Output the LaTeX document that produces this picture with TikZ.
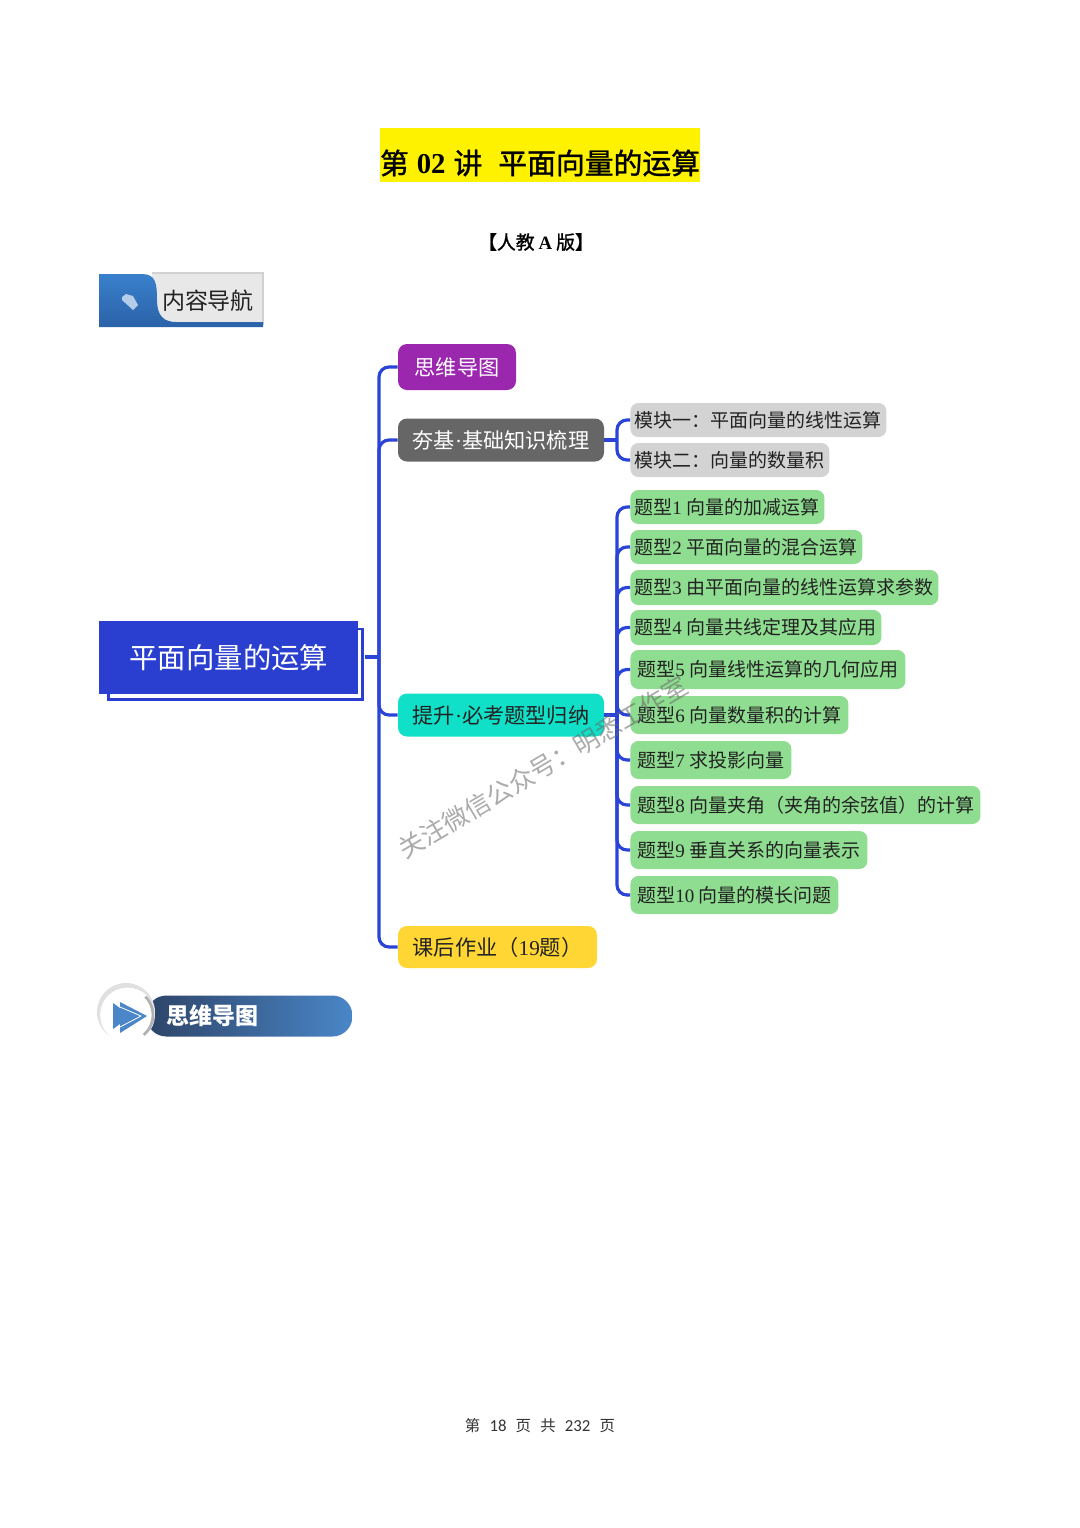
\documentclass[tikz,border=0pt]{standalone}
\usepackage{fontspec}
\setmainfont{Liberation Serif}
\newfontfamily\cjk{Noto Sans CJK SC}
\newfontfamily\cjkt[FakeBold=1.2]{Noto Sans CJK SC}
\newfontfamily\footfont{Carlito}
\usetikzlibrary{calc}
\definecolor{linkblue}{HTML}{2A44D8}
\definecolor{rootblue}{HTML}{2A3FD0}
\definecolor{leafgreen}{HTML}{8FDD90}
\definecolor{leafgray}{HTML}{D3D3D3}
\definecolor{purplebox}{HTML}{9B27AF}
\definecolor{graybox}{HTML}{666666}
\definecolor{tealbox}{HTML}{10E0C8}
\definecolor{yellowbox}{HTML}{FFD633}
\definecolor{tabtop}{HTML}{3A80CC}
\definecolor{tabbot}{HTML}{2A62A8}
\definecolor{pillleft}{HTML}{2D4468}
\definecolor{pillright}{HTML}{4A86C8}
\definecolor{tagblue}{HTML}{B5CDE8}
\definecolor{inktext}{HTML}{222222}
\newcommand{\Dg}[1]{{\rmfamily #1}}
\tikzset{
  conn/.style={draw=linkblue,line width=1.6pt,rounded corners=5pt},
  box/.style={rounded corners=4.5pt,inner sep=0pt,font=\cjk\fontsize{10.6}{13}\selectfont},
  leaf/.style={box,fill=leafgreen,text=inktext,anchor=west,font=\cjk\fontsize{9.5}{12}\selectfont,rounded corners=4pt},
  modbox/.style={leaf,fill=leafgray},
}
\newcommand{\leafat}[7][leaf]{%
  \pgfmathsetmacro\lw{(#3-630)*0.5}%
  \pgfmathsetmacro\lh{(#5-#4)*0.5}%
  \pgfmathsetmacro\ly{(#4+#5)/2}%
  \node[#1,name=#2,minimum height=\lh pt] at (630,\ly) {\makebox[\lw pt][l]{\hspace{#6pt}#7}};}
\begin{document}
\begin{tikzpicture}[x=0.5pt,y=-0.5pt]
\useasboundingbox (0,0) rectangle (1080,1528);
% title
\node[name=title,fill=yellow,minimum width=160pt,minimum height=27pt,inner sep=0pt] at (540,155) {};
\node[name=titletext,inner sep=0pt,font=\cjkt\fontsize{14.4}{17}\selectfont] at (540,163)
  {第\hspace{4pt}{\rmfamily\bfseries 02}\hspace{4pt}讲\hspace{8pt}平面向量的运算};
\node[name=sub,font=\cjkt\fontsize{9.4}{11}\selectfont,inner sep=0pt] at (536,242) {【人教\hspace{2pt}{\rmfamily\bfseries A}\hspace{2pt}版】};
% header tab
\fill[black!18] (152,272) rectangle (264,325);
\fill[black!9] (152,274) rectangle (262,323);
\shade[top color=tabtop,bottom color=tabbot] (99,274) -- (142,274) .. controls (156,274) and (157,284) .. (157,300) .. controls (157,316) and (164,322) .. (176,322) -- (263,322) -- (263,327) -- (99,327) -- cycle;
\fill[tagblue] (122,297) -- (126,294) -- (133,296) -- (138,305) -- (133,310) -- (122,300) -- cycle;
\node[name=nav,inner sep=0pt,font=\cjk\fontsize{11.5}{14}\selectfont,text=inktext] at (208,301) {内容导航};
% root
\node[name=frame,fill=rootblue,minimum width=128.5pt,minimum height=36.5pt,inner sep=0pt,anchor=north west] at (107,628) {};
\fill[white] (110,630) rectangle (361,698);
\node[name=root,fill=rootblue,minimum width=129.5pt,minimum height=36.5pt,inner sep=0pt,anchor=north west,text=white,font=\cjk\fontsize{14.2}{18}\selectfont] at (99,621) {\raisebox{-.4pt}{平面向量的运算}};
% level 1
\node[box,name=a,fill=purplebox,minimum width=59pt,minimum height=23pt,text=white] at (457,367) {思维导图};
\node[box,name=b,fill=graybox,minimum width=103pt,minimum height=21.5pt,text=white] at (501,440) {夯基\Dg{·}基础知识梳理};
\node[box,name=c,fill=tealbox,minimum width=103pt,minimum height=21.5pt,text=inktext] at (501,715) {提升\Dg{·}必考题型归纳};
\node[box,name=d,fill=yellowbox,minimum width=99.5pt,minimum height=21pt,text=inktext] at (497.5,947) {课后作业（\Dg{19}题）};
% level 2
\leafat[modbox]{m1}{886}{403}{437}{2}{模块一：平面向量的线性运算}
\leafat[modbox]{m2}{829}{443}{477}{2}{模块二：向量的数量积}
% level 3
\leafat{q1}{824}{490}{524}{2}{题型\Dg{1} 向量的加减运算}
\leafat{q2}{862}{530}{564}{2}{题型\Dg{2} 平面向量的混合运算}
\leafat{q3}{938}{570}{605}{2}{题型\Dg{3} 由平面向量的线性运算求参数}
\leafat{q4}{881}{610}{645}{2}{题型\Dg{4} 向量共线定理及其应用}
\leafat{q5}{905}{650}{689}{3.5}{题型\Dg{5} 向量线性运算的几何应用}
\leafat{q6}{848}{696}{734}{3.5}{题型\Dg{6} 向量数量积的计算}
\leafat{q7}{791}{741}{779}{3.5}{题型\Dg{7} 求投影向量}
\leafat{q8}{980}{786}{824}{3.5}{题型\Dg{8} 向量夹角（夹角的余弦值）的计算}
\leafat{q9}{867}{831}{869}{3.5}{题型\Dg{9} 垂直关系的向量表示}
\leafat{q10}{838}{876}{914}{3.5}{题型\Dg{10} 向量的模长问题}
% connectors
\coordinate (t) at (379,657);
\coordinate (u) at (617,440);
\coordinate (s) at (617,715);
\draw[conn] (frame.east |- t) -- (t);
\draw[conn] (t) |- (a.west);
\draw[conn] (t) |- (b.west);
\draw[conn] (t) |- (c.west);
\draw[conn] (t) |- (d.west);
\draw[conn] (b.east) -- (u);
\draw[conn] (u) |- (m1.west);
\draw[conn] (u) |- (m2.west);
\draw[conn] (c.east) -- (s);
\foreach \q in {q1,q2,q3,q4,q5,q6,q7,q8,q9,q10}{\draw[conn] (s) |- (\q.west);}
% lower banner
\node[name=pill,left color=pillleft,right color=pillright,rounded corners=10pt,minimum width=103pt,minimum height=20.5pt,inner sep=0pt,anchor=west] at (146,1016) {};
\fill[black!12] (126,1012) circle[radius=14.5pt];
\fill[white] (127.5,1015) circle[radius=13.7pt];
\draw[black!30,line width=1.4pt] (145.4,996.6) arc[start angle=45,end angle=-50,radius=13pt];
\fill[pillright] (113,1003) -- (131,1016) -- (113,1029) -- cycle;
\fill[pillright] (120,1002) -- (147,1016) -- (120,1033) -- cycle;
\draw[white,line width=0.4pt] (120,1007) -- (141,1016) -- (120,1027);
\node[name=mm,inner sep=0pt,text=white,font=\cjk\bfseries\fontsize{11.5}{14}\selectfont] at (212,1016) {思维导图};
% footer
\node[name=foot,inner sep=0pt,text=black!80,font=\cjk\fontsize{7.7}{10}\selectfont] at (540,1426) {第\hspace{4.6pt}{\footfont\fontsize{8.4}{10}\selectfont 18}\hspace{4.6pt}页\hspace{4.6pt}共\hspace{4.6pt}{\footfont\fontsize{8.4}{10}\selectfont 232}\hspace{4.6pt}页};
% watermark
\node[name=wm,inner sep=0pt,rotate=30.5,text=black!60,opacity=.55,font=\cjk\fontsize{12.7}{15}\selectfont] at (543,767) {关注微信公众号：明悉工作室};
\end{tikzpicture}
\end{document}
